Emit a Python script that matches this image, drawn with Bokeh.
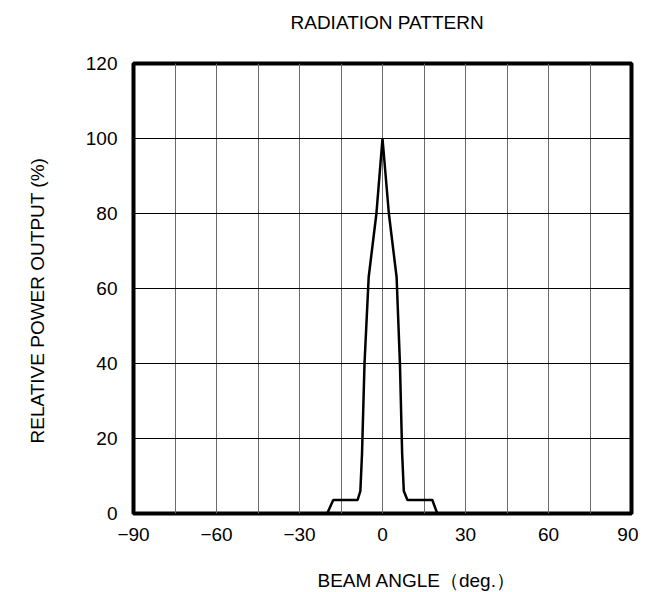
from bokeh.plotting import figure
from bokeh.models import Range1d, FixedTicker, Title
from bokeh.embed import file_html
from bokeh.resources import INLINE

# data
angle = [-20, -17.8, -9, -8, -7.4, -6.5, -5, -2.2, 0, 2.3, 5.1, 6.3, 7.1, 7.7, 9, 18, 19.8]
power = [0, 3.6, 3.6, 6, 16, 40, 63, 80, 100, 80, 63, 40, 16, 6, 3.6, 3.6, 0]
x_ticks = [-90, -60, -30, 0, 30, 60, 90]
x_tick_labels = ["\u221290", "\u221260", "\u221230", "0", "30", "60", "90"]
y_ticks = [0, 20, 40, 60, 80, 100, 120]
x_grid = [-75, -60, -45, -30, -15, 0, 15, 30, 45, 60, 75]
y_grid = [20, 40, 60, 80, 100]

title_text = "RADIATION PATTERN"
x_label_text = "BEAM ANGLE\uff08deg.\uff09"
y_label_text = "RELATIVE POWER OUTPUT (%)"

FONT = "Liberation Sans"

p = figure(width=638, height=592, output_backend="svg", toolbar_location=None,
           x_range=Range1d(-90, 90), y_range=Range1d(0, 120),
           min_border_left=133, min_border_right=7, min_border_top=63, min_border_bottom=79)
p.background_fill_color = "white"
p.border_fill_color = "white"
p.outline_line_color = "black"
p.outline_line_width = 4

p.xaxis.ticker = FixedTicker(ticks=x_ticks)
p.yaxis.ticker = FixedTicker(ticks=y_ticks)
p.xaxis.major_label_overrides = {t: l for t, l in zip(x_ticks, x_tick_labels)}
for ax in (p.xaxis, p.yaxis):
    ax.axis_line_color = None
    ax.major_tick_line_color = None
    ax.minor_tick_line_color = None
    ax.major_tick_out = 0
    ax.major_tick_in = 0
    ax.minor_tick_out = 0
    ax.minor_tick_in = 0
    ax.major_label_text_font = FONT
    ax.major_label_text_font_size = "19px"
    ax.major_label_text_color = "black"
p.xaxis.major_label_standoff = 14
p.yaxis.major_label_standoff = 16

p.xgrid.ticker = FixedTicker(ticks=x_grid)
p.ygrid.ticker = FixedTicker(ticks=y_grid)
p.xgrid.grid_line_color = "#6b6b6b"
p.xgrid.grid_line_width = 1
p.ygrid.grid_line_color = "black"
p.ygrid.grid_line_width = 1

p.line(angle, power, line_color="black", line_width=2.5)


def spacer(sz):
    return Title(text=" ", text_font_size="10px", standoff=sz)


# spacers sit next to the frame, the real texts outside them
p.add_layout(spacer(18), "above")
p.add_layout(Title(text=title_text, text_font=FONT, text_font_size="19px", text_font_style="normal",
                   align="left", offset=157, standoff=0, text_color="black"), "above")
p.add_layout(spacer(11), "below")
p.add_layout(Title(text=x_label_text, text_font=FONT, text_font_size="19px", text_font_style="normal",
                   align="left", offset=184, standoff=0, text_color="black"), "below")
p.add_layout(spacer(22), "left")
p.add_layout(Title(text=y_label_text, text_font=FONT, text_font_size="19px", text_font_style="normal",
                   align="left", offset=70, standoff=0, text_color="black"), "left")

open("out.html", "w").write(file_html(p, INLINE))
